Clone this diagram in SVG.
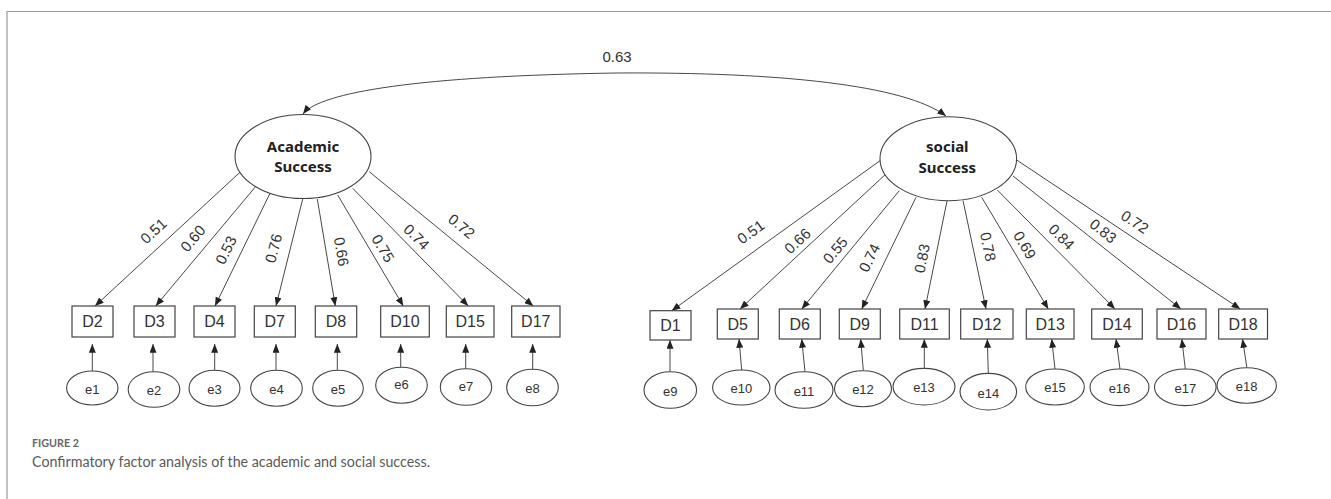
<svg xmlns="http://www.w3.org/2000/svg" width="1331" height="499" viewBox="0 0 1331 499">
<style>
.frame{stroke:#9a9a9a;stroke-width:1.2;fill:none}
.lat{fill:#fff;stroke:#444;stroke-width:1.1}
.latt{font-family:"Noto Sans","Liberation Sans",sans-serif;font-weight:bold;font-size:15px;fill:#222;text-anchor:middle}
.box{fill:#fff;stroke:#444;stroke-width:1.2}
.boxt{font-family:"Liberation Sans",Arial,sans-serif;font-size:16px;fill:#333;text-anchor:middle;dominant-baseline:central}
.err{fill:#fff;stroke:#444;stroke-width:1.1}
.errt{font-family:"Liberation Sans",Arial,sans-serif;font-size:13px;fill:#333;text-anchor:middle;dominant-baseline:central}
.edge{stroke:#333;stroke-width:0.9;fill:none;marker-end:url(#ah)}
.lbl{font-family:"Liberation Sans",Arial,sans-serif;font-size:15px;fill:#333;text-anchor:middle;dominant-baseline:central}
.cap1{font-family:Lato,"Open Sans",sans-serif;font-weight:bold;font-size:12px;fill:#666}
.cap2{font-family:Lato,"Open Sans",sans-serif;font-size:15.5px;fill:#5a5a5a}
</style>
<defs>
<marker id="ah" viewBox="0 0 10 8" refX="10" refY="4" markerWidth="9" markerHeight="7" markerUnits="userSpaceOnUse" orient="auto-start-reverse">
<path d="M0,0 L10,4 L0,8 z" fill="#222"/>
</marker>
</defs>
<rect width="1331" height="499" fill="#fff"/>
<path class="frame" d="M7,499 V11.5 H1331"/>

<g id="connectors">
<path class="edge" style="marker-start:url(#ah)" d="M303,114 C320,92 420,76 617,73 C780,72 905,85 946,116"/>
<text class="lbl" x="617" y="56">0.63</text>
<!-- academic loadings -->
<line class="edge" x1="241.7" y1="170.7" x2="95" y2="306"/>
<line class="edge" x1="255" y1="187.3" x2="155.7" y2="306"/>
<line class="edge" x1="270" y1="193.3" x2="215" y2="306"/>
<line class="edge" x1="302.7" y1="199" x2="276" y2="306"/>
<line class="edge" x1="317.3" y1="199" x2="335.3" y2="306"/>
<line class="edge" x1="337.7" y1="195" x2="403.3" y2="306"/>
<line class="edge" x1="352.7" y1="188.3" x2="468.3" y2="306"/>
<line class="edge" x1="369.3" y1="171.7" x2="533.3" y2="306"/>
<text class="lbl" transform="translate(153.3,230.7) rotate(-42.7)">0.51</text>
<text class="lbl" transform="translate(192.7,238.3) rotate(-50)">0.60</text>
<text class="lbl" transform="translate(225.7,250) rotate(-64)">0.53</text>
<text class="lbl" transform="translate(273.3,248.3) rotate(-76)">0.76</text>
<text class="lbl" transform="translate(341.7,251.7) rotate(80)">0.66</text>
<text class="lbl" transform="translate(383.3,248.3) rotate(59)">0.75</text>
<text class="lbl" transform="translate(416.7,236.7) rotate(45.5)">0.74</text>
<text class="lbl" transform="translate(461.7,226) rotate(39.3)">0.72</text>
<!-- social loadings -->
<line class="edge" x1="880" y1="160.7" x2="671.7" y2="310.7"/>
<line class="edge" x1="886.7" y1="173.3" x2="740" y2="309"/>
<line class="edge" x1="899.3" y1="190.7" x2="801.7" y2="309"/>
<line class="edge" x1="916" y1="197.3" x2="861.7" y2="309"/>
<line class="edge" x1="947" y1="201" x2="925" y2="309"/>
<line class="edge" x1="963" y1="200.5" x2="986" y2="309"/>
<line class="edge" x1="981.7" y1="197.3" x2="1048.3" y2="309"/>
<line class="edge" x1="997.3" y1="190" x2="1115" y2="309"/>
<line class="edge" x1="1013" y1="176" x2="1181" y2="309"/>
<line class="edge" x1="1016.7" y1="160" x2="1240.3" y2="309"/>
<text class="lbl" transform="translate(750.7,231.7) rotate(-35.8)">0.51</text>
<text class="lbl" transform="translate(797.3,240.7) rotate(-42.8)">0.66</text>
<text class="lbl" transform="translate(835,250) rotate(-50.5)">0.55</text>
<text class="lbl" transform="translate(869.3,257.7) rotate(-64)">0.74</text>
<text class="lbl" transform="translate(921.7,258.3) rotate(-78.5)">0.83</text>
<text class="lbl" transform="translate(988.3,246.7) rotate(78)">0.78</text>
<text class="lbl" transform="translate(1025,245) rotate(59)">0.69</text>
<text class="lbl" transform="translate(1061.7,236.7) rotate(45.3)">0.84</text>
<text class="lbl" transform="translate(1103.3,230.7) rotate(38.5)">0.83</text>
<text class="lbl" transform="translate(1135,221.7) rotate(33.7)">0.72</text>
<!-- error arrows left -->
<line class="edge" x1="92.3" y1="371" x2="92.3" y2="344"/>
<line class="edge" x1="153" y1="372" x2="153" y2="344"/>
<line class="edge" x1="214.7" y1="370.5" x2="214.7" y2="344"/>
<line class="edge" x1="276" y1="370.5" x2="276" y2="344"/>
<line class="edge" x1="337.3" y1="370.5" x2="337.3" y2="344"/>
<line class="edge" x1="400.7" y1="367.5" x2="400.7" y2="344"/>
<line class="edge" x1="465.7" y1="369" x2="465.7" y2="344"/>
<line class="edge" x1="532.7" y1="369.5" x2="532.7" y2="344"/>
<!-- error arrows right -->
<line class="edge" x1="670" y1="371.7" x2="670" y2="340"/>
<line class="edge" x1="741.7" y1="370" x2="739" y2="339"/>
<line class="edge" x1="805" y1="371.7" x2="801.7" y2="339"/>
<line class="edge" x1="863.3" y1="370.5" x2="860.7" y2="339"/>
<line class="edge" x1="924.3" y1="368.3" x2="924.3" y2="339"/>
<line class="edge" x1="988.3" y1="373.3" x2="987.3" y2="339"/>
<line class="edge" x1="1055" y1="369" x2="1051.7" y2="339"/>
<line class="edge" x1="1120" y1="369" x2="1116" y2="339"/>
<line class="edge" x1="1185.3" y1="369" x2="1181.8" y2="339"/>
<line class="edge" x1="1246.9" y1="367.7" x2="1242.5" y2="339"/>
</g>

<g id="academic">
<ellipse class="lat" cx="303" cy="156.5" rx="68" ry="42"/>
<text class="latt" x="303" y="152">Academic</text>
<text class="latt" x="303" y="172">Success</text>
</g>
<g id="social">
<ellipse class="lat" cx="948.3" cy="158.7" rx="68.3" ry="42"/>
<text class="latt" x="947.3" y="152">social</text>
<text class="latt" x="947.3" y="172.5">Success</text>
</g>

<g id="D2"><rect class="box" x="72" y="306" width="41" height="31"/><text class="boxt" x="92.5" y="321.5">D2</text></g>
<g id="D3"><rect class="box" x="134" y="306" width="41" height="31"/><text class="boxt" x="154.5" y="321.5">D3</text></g>
<g id="D4"><rect class="box" x="194" y="306" width="41" height="31"/><text class="boxt" x="214.5" y="321.5">D4</text></g>
<g id="D7"><rect class="box" x="254.3" y="306" width="41" height="31"/><text class="boxt" x="274.8" y="321.5">D7</text></g>
<g id="D8"><rect class="box" x="315.3" y="306" width="41.4" height="31"/><text class="boxt" x="336" y="321.5">D8</text></g>
<g id="D10"><rect class="box" x="380.7" y="306" width="48.6" height="31"/><text class="boxt" x="405" y="321.5">D10</text></g>
<g id="D15"><rect class="box" x="446.3" y="306" width="47.7" height="31"/><text class="boxt" x="470.2" y="321.5">D15</text></g>
<g id="D17"><rect class="box" x="511.7" y="306" width="48.3" height="31"/><text class="boxt" x="535.8" y="321.5">D17</text></g>

<g id="D1"><rect class="box" x="650" y="310.7" width="41" height="29.3"/><text class="boxt" x="670.5" y="325.5">D1</text></g>
<g id="D5"><rect class="box" x="717.3" y="309" width="41" height="30"/><text class="boxt" x="737.8" y="324">D5</text></g>
<g id="D6"><rect class="box" x="779.3" y="309" width="41" height="30"/><text class="boxt" x="799.8" y="324">D6</text></g>
<g id="D9"><rect class="box" x="839.3" y="309" width="41" height="30"/><text class="boxt" x="859.8" y="324">D9</text></g>
<g id="D11"><rect class="box" x="899.7" y="309" width="49.6" height="30"/><text class="boxt" x="924.5" y="324">D11</text></g>
<g id="D12"><rect class="box" x="960.7" y="309" width="52.3" height="30"/><text class="boxt" x="986.8" y="324">D12</text></g>
<g id="D13"><rect class="box" x="1026.3" y="309" width="47.7" height="30"/><text class="boxt" x="1050.2" y="324">D13</text></g>
<g id="D14"><rect class="box" x="1091.7" y="309" width="50.6" height="30"/><text class="boxt" x="1117" y="324">D14</text></g>
<g id="D16"><rect class="box" x="1157" y="309" width="49" height="30"/><text class="boxt" x="1181.5" y="324">D16</text></g>
<g id="D18"><rect class="box" x="1218.7" y="309" width="48.8" height="30"/><text class="boxt" x="1243.1" y="324">D18</text></g>

<g id="e1"><ellipse class="err" cx="92.3" cy="388" rx="25.7" ry="17"/><text class="errt" x="92.3" y="389">e1</text></g>
<g id="e2"><ellipse class="err" cx="154" cy="389.5" rx="25.8" ry="17.8"/><text class="errt" x="154" y="390.5">e2</text></g>
<g id="e3"><ellipse class="err" cx="214.5" cy="388.3" rx="25.5" ry="18"/><text class="errt" x="214.5" y="389.3">e3</text></g>
<g id="e4"><ellipse class="err" cx="276.5" cy="388.3" rx="25.8" ry="18"/><text class="errt" x="276.5" y="389.3">e4</text></g>
<g id="e5"><ellipse class="err" cx="338" cy="388.3" rx="25.3" ry="18"/><text class="errt" x="338" y="389.3">e5</text></g>
<g id="e6"><ellipse class="err" cx="401.5" cy="385.3" rx="25.8" ry="18"/><text class="errt" x="401.5" y="384">e6</text></g>
<g id="e7"><ellipse class="err" cx="466" cy="387" rx="25.7" ry="18.3"/><text class="errt" x="466" y="386">e7</text></g>
<g id="e8"><ellipse class="err" cx="532.5" cy="387.5" rx="25.8" ry="18.3"/><text class="errt" x="532.5" y="388.5">e8</text></g>

<g id="e9"><ellipse class="err" cx="670.3" cy="390" rx="26.3" ry="18.3"/><text class="errt" x="670.3" y="391">e9</text></g>
<g id="e10"><ellipse class="err" cx="741.3" cy="387.5" rx="28.7" ry="17.5"/><text class="errt" x="741.3" y="388.5">e10</text></g>
<g id="e11"><ellipse class="err" cx="804" cy="390" rx="29" ry="18.3"/><text class="errt" x="804" y="391">e11</text></g>
<g id="e12"><ellipse class="err" cx="863" cy="388.7" rx="28.5" ry="18"/><text class="errt" x="863" y="389.5">e12</text></g>
<g id="e13"><ellipse class="err" cx="924" cy="386.7" rx="31" ry="18.3"/><text class="errt" x="924" y="387">e13</text></g>
<g id="e14"><ellipse class="err" cx="988.3" cy="391.7" rx="28.3" ry="18.3"/><text class="errt" x="988.3" y="393">e14</text></g>
<g id="e15"><ellipse class="err" cx="1055" cy="387" rx="29.3" ry="18"/><text class="errt" x="1055" y="387.5">e15</text></g>
<g id="e16"><ellipse class="err" cx="1119.5" cy="387.3" rx="29.5" ry="18.3"/><text class="errt" x="1119.5" y="388">e16</text></g>
<g id="e17"><ellipse class="err" cx="1185.3" cy="387.3" rx="30.8" ry="18.3"/><text class="errt" x="1185.3" y="388">e17</text></g>
<g id="e18"><ellipse class="err" cx="1246.7" cy="385.5" rx="29.7" ry="17.8"/><text class="errt" x="1246.7" y="386">e18</text></g>

<g id="caption">
<text class="cap1" x="32" y="447" textLength="47" lengthAdjust="spacingAndGlyphs">FIGURE 2</text>
<text class="cap2" x="32" y="467" textLength="398" lengthAdjust="spacingAndGlyphs">Confirmatory factor analysis of the academic and social success.</text>
</g>
</svg>
